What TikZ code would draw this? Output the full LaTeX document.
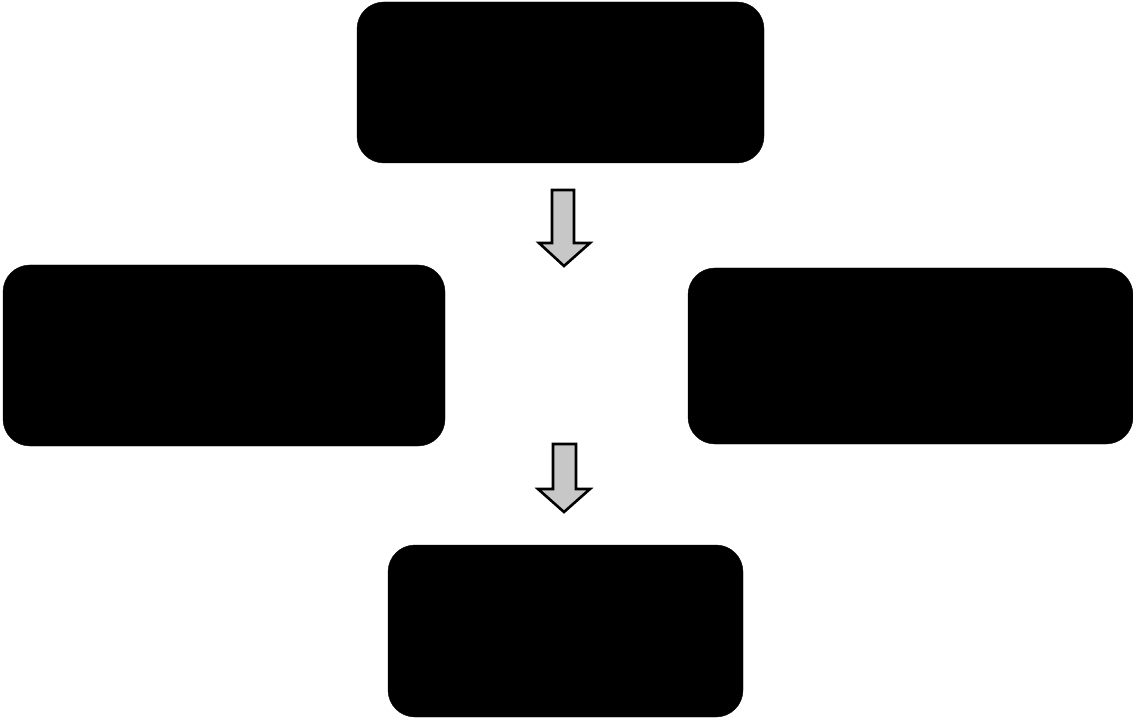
\documentclass[tikz,border=0pt]{standalone}
\begin{document}
\begin{tikzpicture}[x=1pt,y=-1pt,
  blackbox/.style={fill=black,draw=black,rounded corners=27pt,inner sep=0pt,outer sep=0pt},
  blockarrow/.style={draw=black,line width=2.6pt,line join=miter,fill=black!22}]
\useasboundingbox (0,0) rectangle (1133,719);
% boxes
\node[blackbox,minimum width=407pt,minimum height=161pt] (top) at (560.5,82.5) {};
\node[blackbox,minimum width=442pt,minimum height=181pt] (left) at (224,355.5) {};
\node[blackbox,minimum width=445pt,minimum height=176pt] (right) at (910.5,356) {};
\node[blackbox,minimum width=355pt,minimum height=172pt] (bottom) at (565.5,631) {};
% block arrows
\path[blockarrow] (552,190) -- (574,190) -- (574,243) -- (590,243) -- (564,266) -- (539,243) -- (552,243) -- cycle;
\path[blockarrow] (553,444) -- (576,444) -- (576,489) -- (590,489) -- (564,512) -- (538,489) -- (553,489) -- cycle;
\end{tikzpicture}
\end{document}
